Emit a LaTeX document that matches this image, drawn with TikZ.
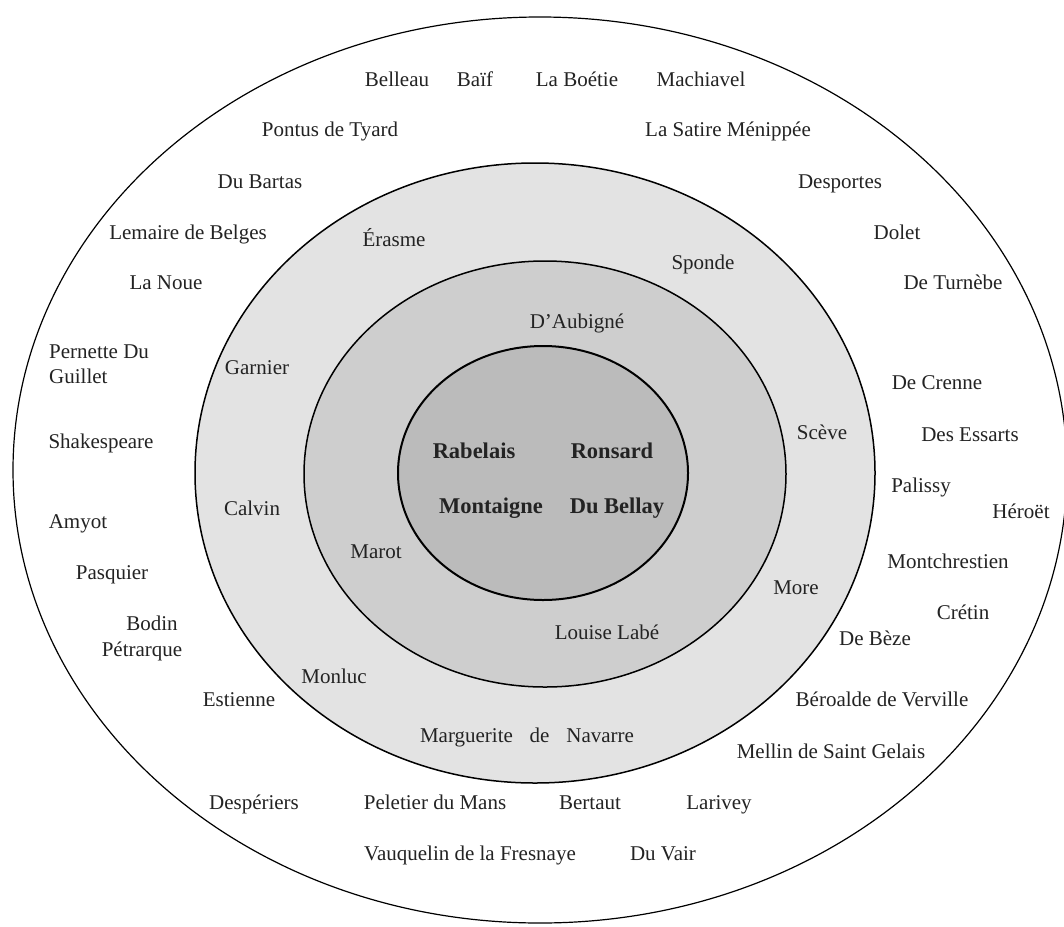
\documentclass[tikz,border=0pt]{standalone}
\usepackage{fontspec}
\setmainfont{Liberation Serif}
\usepackage{xcolor}
\usepackage{tikz}
\definecolor{middlering}{RGB}{227,227,227}
\definecolor{innerring}{RGB}{206,206,206}
\definecolor{coregray}{RGB}{187,187,187}
\definecolor{inkgray}{RGB}{35,35,35}
\tikzset{
    author/.style={text=inkgray, font=\fontsize{21}{25}\selectfont, inner sep=0pt, text height=0.66em, text depth=0pt, yshift=-3pt},
    coreauthor/.style={text=inkgray, font=\fontsize{22.5}{27}\selectfont\bfseries, inner sep=0pt, text height=0.66em, text depth=0pt, yshift=-3pt},
    ring/.style={draw=black, line width=1.5pt}
}

\begin{document}
\begin{tikzpicture}[x=1pt, y=-1pt]
    \useasboundingbox (0,0) rectangle (1064,926);
    \fill[white] (0,0) rectangle (1064,926);

    \draw[ring, line width=1.2pt, fill=white] (540,470) ellipse [x radius=527, y radius=453];
    \draw[ring, fill=middlering] (535,473) ellipse [x radius=340, y radius=310];
    \draw[ring, fill=innerring] (545,474) ellipse [x radius=241, y radius=213];
    \draw[ring, line width=2pt, fill=coregray] (543,473) ellipse [x radius=145, y radius=127];

    \node[coreauthor] (rabelais) at (474,452) {Rabelais};
    \node[coreauthor] (ronsard) at (612,452) {Ronsard};
    \node[coreauthor] (montaigne) at (491,507) {Montaigne};
    \node[coreauthor] (dubellay) at (617,507) {Du Bellay};

    \node[author] (daubigne) at (577,322) {D'Aubigné};
    \node[author] (marot) at (376,552) {Marot};
    \node[author] (labe) at (607,633) {Louise Labé};

    \node[author] (erasme) at (394,240) {Érasme};
    \node[author] (sponde) at (703,263) {Sponde};
    \node[author] (garnier) at (257,368) {Garnier};
    \node[author] (sceve) at (822,433) {Scève};
    \node[author] (calvin) at (252,509) {Calvin};
    \node[author] (more) at (796,588) {More};
    \node[author] (monluc) at (334,677) {Monluc};
    \node[author] (navarre) at (527,736) {Marguerite\hspace{0.8em}de\hspace{0.8em}Navarre};

    \node[author] (belleau) at (397,80) {Belleau};
    \node[author] (baif) at (475,80) {Baïf};
    \node[author] (boetie) at (577,80) {La Boétie};
    \node[author] (machiavel) at (701,80) {Machiavel};
    \node[author] (tyard) at (330,130) {Pontus de Tyard};
    \node[author] (satire) at (728,130) {La Satire Ménippée};
    \node[author] (bartas) at (260,182) {Du Bartas};
    \node[author] (desportes) at (840,182) {Desportes};
    \node[author] (lemaire) at (188,233) {Lemaire de Belges};
    \node[author] (dolet) at (897,233) {Dolet};
    \node[author] (lanoue) at (166,283) {La Noue};
    \node[author] (turnebe) at (953,283) {De Turnèbe};
    \node[author, align=left, anchor=west] (pernette) at (49,377) {Pernette Du\\Guillet};
    \node[author] (shakespeare) at (101,442) {Shakespeare};
    \node[author] (crenne) at (937,383) {De Crenne};
    \node[author] (essarts) at (970,435) {Des Essarts};
    \node[author] (palissy) at (921,486) {Palissy};
    \node[author] (heroet) at (1021,512) {Héroët};
    \node[author] (amyot) at (78,522) {Amyot};
    \node[author] (pasquier) at (112,573) {Pasquier};
    \node[author] (montchrestien) at (948,562) {Montchrestien};
    \node[author] (cretin) at (963,613) {Crétin};
    \node[author] (bodin) at (152,624) {Bodin};
    \node[author] (petrarque) at (142,650) {Pétrarque};
    \node[author] (beze) at (875,639) {De Bèze};
    \node[author] (estienne) at (239,700) {Estienne};
    \node[author] (beroalde) at (882,700) {Béroalde de Verville};
    \node[author] (mellin) at (831,752) {Mellin de Saint Gelais};
    \node[author] (desperiers) at (254,803) {Despériers};
    \node[author] (peletier) at (435,803) {Peletier du Mans};
    \node[author] (bertaut) at (590,803) {Bertaut};
    \node[author] (larivey) at (719,803) {Larivey};
    \node[author] (vauquelin) at (470,854) {Vauquelin de la Fresnaye};
    \node[author] (duvair) at (663,854) {Du Vair};
\end{tikzpicture}
\end{document}
